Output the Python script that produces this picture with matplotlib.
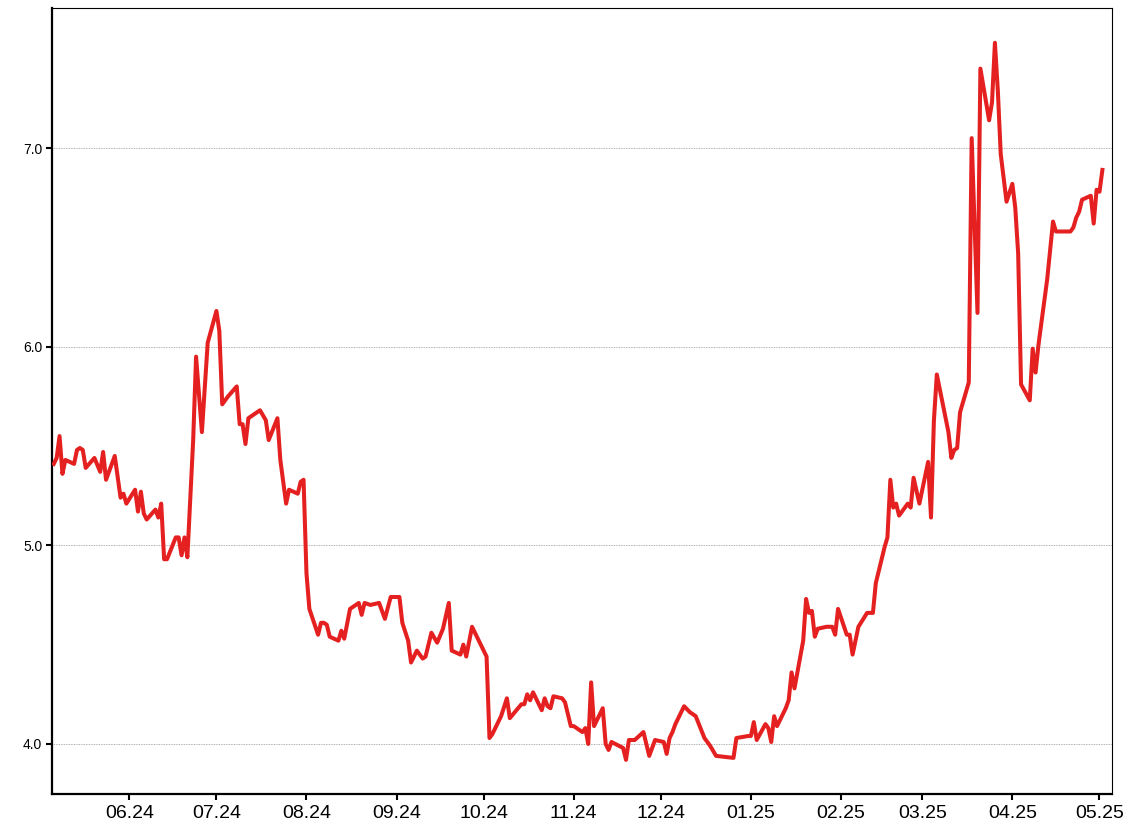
# Price line chart, May 2024 - May 2025
import matplotlib
matplotlib.use("Agg")
import matplotlib.pyplot as plt
import matplotlib.dates as mdates
import pandas as pd

# Data: days since the first point and price
start_date = "2024-05-06"
day_offsets = [
    0, 1, 2, 3, 4, 7, 8, 9, 10, 11, 14, 16, 17, 18, 21, 23, 24, 25, 28, 29,
    30, 31, 32, 35, 36, 37, 38, 39, 42, 43, 44, 45, 46, 48, 49, 51, 53, 56, 57, 58,
    60, 63, 64, 65, 66, 67, 71, 73, 74, 77, 78, 80, 81, 84, 85, 86, 87, 88, 91, 92,
    93, 94, 95, 98, 99, 100, 102, 105, 106, 107, 109, 112, 114, 116, 119, 120, 122, 123, 125, 127,
    128, 130, 132, 134, 136, 137, 140, 141, 142, 144, 149, 150, 151, 154, 156, 157, 161, 162, 163, 164,
    165, 168, 169, 170, 171, 172, 175, 176, 178, 179, 182, 183, 184, 185, 186, 189, 190, 191, 192, 196,
    197, 198, 200, 203, 205, 207, 210, 211, 212, 213, 214, 217, 219, 221, 224, 226, 228, 234, 235, 239,
    240, 241, 242, 245, 246, 247, 248, 249, 252, 253, 254, 255, 256, 258, 259, 260, 261, 262, 263, 266,
    268, 269, 270, 273, 274, 275, 277, 280, 282, 283, 286, 287, 288, 289, 290, 291, 294, 295, 296, 298,
    301, 302, 303, 304, 308, 309, 310, 311, 312, 315, 316, 318, 319, 322, 323, 324, 325, 326, 328, 330,
    331, 332, 333, 336, 337, 338, 339, 342, 344, 345, 350, 351, 352, 353, 354, 357, 358, 359, 360, 361,
]
prices = [
    5.41, 5.44, 5.55, 5.36, 5.43, 5.41, 5.48, 5.49, 5.48, 5.39, 5.44, 5.37, 5.47, 5.33, 5.45, 5.24, 5.26, 5.21, 5.28, 5.17,
    5.27, 5.16, 5.13, 5.18, 5.14, 5.21, 4.93, 4.93, 5.04, 5.04, 4.95, 5.04, 4.94, 5.53, 5.95, 5.57, 6.02, 6.18, 6.08, 5.71,
    5.75, 5.80, 5.61, 5.61, 5.51, 5.64, 5.68, 5.63, 5.53, 5.64, 5.43, 5.21, 5.28, 5.26, 5.32, 5.33, 4.86, 4.68, 4.55, 4.61,
    4.61, 4.60, 4.54, 4.52, 4.57, 4.53, 4.68, 4.71, 4.65, 4.71, 4.70, 4.71, 4.63, 4.74, 4.74, 4.61, 4.52, 4.41, 4.47, 4.43,
    4.44, 4.56, 4.51, 4.58, 4.71, 4.47, 4.45, 4.50, 4.44, 4.59, 4.44, 4.03, 4.05, 4.14, 4.23, 4.13, 4.20, 4.20, 4.25, 4.22,
    4.26, 4.17, 4.23, 4.19, 4.18, 4.24, 4.23, 4.21, 4.09, 4.09, 4.06, 4.08, 4.00, 4.31, 4.09, 4.18, 4.00, 3.97, 4.01, 3.98,
    3.92, 4.02, 4.02, 4.06, 3.94, 4.02, 4.01, 3.95, 4.03, 4.06, 4.10, 4.19, 4.16, 4.14, 4.03, 3.99, 3.94, 3.93, 4.03, 4.04,
    4.04, 4.11, 4.02, 4.10, 4.08, 4.01, 4.14, 4.09, 4.18, 4.22, 4.36, 4.28, 4.36, 4.52, 4.73, 4.66, 4.67, 4.54, 4.58, 4.59,
    4.59, 4.55, 4.68, 4.55, 4.55, 4.45, 4.59, 4.66, 4.66, 4.81, 4.99, 5.04, 5.33, 5.19, 5.21, 5.15, 5.21, 5.19, 5.34, 5.21,
    5.42, 5.14, 5.63, 5.86, 5.57, 5.44, 5.48, 5.49, 5.67, 5.82, 7.05, 6.17, 7.40, 7.14, 7.23, 7.53, 7.29, 6.97, 6.73, 6.82,
    6.70, 6.47, 5.81, 5.73, 5.99, 5.87, 6.01, 6.34, 6.63, 6.58, 6.58, 6.60, 6.65, 6.68, 6.74, 6.76, 6.62, 6.79, 6.78, 6.89,
]
y_ticks = [4.0, 5.0, 6.0, 7.0]

dates = pd.Timestamp(start_date) + pd.to_timedelta(day_offsets, unit="D")
series = pd.Series(prices, index=dates)

plt.rcParams["font.family"] = ["Liberation Sans", "DejaVu Sans"]

fig = plt.figure(figsize=(11.28, 8.36), dpi=100)
ax = fig.add_axes([0.0461, 0.0502, 0.9397, 0.9402])

ax.plot(series.index, series.values, color="#e52020", linewidth=2.9,
        solid_joinstyle="round", zorder=3)

ax.set_ylim(3.748, 7.705)
ax.set_xlim(pd.Timestamp(start_date) - pd.Timedelta(days=0.6),
            pd.Timestamp(start_date) + pd.Timedelta(days=364.3))

ax.set_yticks(y_ticks)
ax.yaxis.set_major_formatter(matplotlib.ticker.FormatStrFormatter("%.1f"))
ax.xaxis.set_major_locator(mdates.MonthLocator())
ax.xaxis.set_major_formatter(mdates.DateFormatter("%m.%y"))

ax.grid(axis="y", color="#999999", linestyle=(0, (1, 1)), linewidth=0.6, zorder=1)
ax.grid(axis="x", visible=False)

ax.tick_params(axis="y", labelsize=10, length=4, width=1.5, direction="out", pad=3)
ax.tick_params(axis="x", labelsize=14, length=4, width=1.5, direction="out", pad=4)

for side in ["left", "bottom"]:
    ax.spines[side].set_linewidth(1.6)
for side in ["top", "right"]:
    ax.spines[side].set_linewidth(0.8)

plt.savefig("out.png", dpi=100)
